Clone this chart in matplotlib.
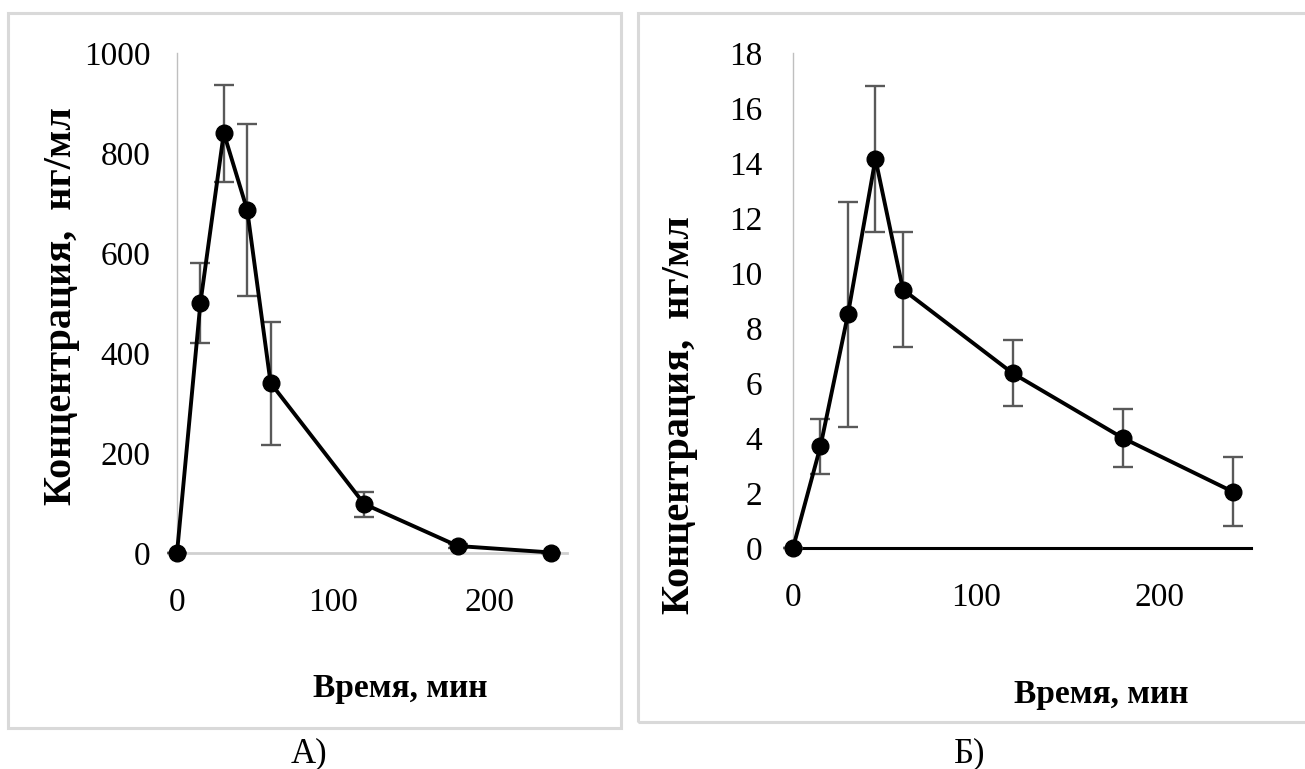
import matplotlib
matplotlib.use('Agg')
import matplotlib.pyplot as plt
from matplotlib.patches import Rectangle

plt.rcParams['font.family'] = ['Liberation Serif', 'DejaVu Serif']

# time points, min
time_min = [0, 15, 30, 45, 60, 120, 180, 240]

# panel A: concentration, ng/ml
conc_a = [0, 500, 840, 686, 340, 98, 14, 1]
err_a = [0, 80, 97, 172, 123, 25, 4, 0]

# panel B: concentration, ng/ml
conc_b = [0, 3.7, 8.5, 14.15, 9.4, 6.35, 4.0, 2.05]
err_b = [0, 1.0, 4.1, 2.65, 2.1, 1.2, 1.05, 1.25]

yticks_a = [0, 200, 400, 600, 800, 1000]
yticks_b = [0, 2, 4, 6, 8, 10, 12, 14, 16, 18]
xticks = [0, 100, 200]

W, H = 1305, 769
fig = plt.figure(figsize=(W / 100, H / 100), dpi=100)
fig.patch.set_facecolor('white')

# gray frames around each chart
frame_col = '#d9d9d9'
fig.patches.append(Rectangle((8 / W, 1 - 728 / H), (621 - 8) / W, (728 - 13) / H,
                             transform=fig.transFigure, fill=False,
                             edgecolor=frame_col, linewidth=2.2))
fig.patches.append(Rectangle((638 / W, 1 - 722 / H), (1350 - 638) / W, (722 - 13) / H,
                             transform=fig.transFigure, fill=False,
                             edgecolor=frame_col, linewidth=2.2))

ax_a = fig.add_axes([177 / W, 1 - 553 / H, 390 / W, 500 / H])
ax_b = fig.add_axes([793 / W, 1 - 548 / H, 458 / W, 495 / H])


def draw(ax, conc, err, ymax, yticks, xcol, xlw, ypad):
    ax.errorbar(time_min, conc, yerr=err, fmt='none', ecolor='#595959',
                elinewidth=1.7, capsize=7, capthick=1.7, zorder=2, clip_on=False)
    ax.plot(time_min, conc, color='black', linewidth=2.8, marker='o',
            markersize=12, zorder=3, clip_on=False)
    ax.set_xlim(0, 250)
    ax.set_ylim(0, ymax)
    ax.set_xticks(xticks)
    ax.set_yticks(yticks)
    ax.tick_params(axis='both', length=0, labelsize=24)
    ax.tick_params(axis='x', pad=25)
    ax.tick_params(axis='y', pad=ypad)
    for s in ['top', 'right']:
        ax.spines[s].set_visible(False)
    ax.spines['left'].set_color('#bfbfbf')
    ax.spines['left'].set_linewidth(1.0)
    ax.spines['bottom'].set_color(xcol)
    ax.spines['bottom'].set_linewidth(xlw)
    ax.spines['bottom'].set_zorder(1)


draw(ax_a, conc_a, err_a, 1000, yticks_a, '#d0d0d0', 2.0, 19)
draw(ax_b, conc_b, err_b, 18, yticks_b, 'black', 2.2, 22)

for ax, (lx, ly), (yx, yy) in [(ax_a, (0.572, -0.27), (-0.297, 0.494)),
                               (ax_b, (0.6725, -0.295), (-0.247, 0.269))]:
    ax.set_xlabel('Время, мин', fontsize=24, fontweight='bold')
    ax.xaxis.set_label_coords(lx, ly)
    ax.xaxis.label.set_va('center')
    ax.set_ylabel('Концентрация,  нг/мл', fontsize=29, fontweight='bold')
    ax.yaxis.set_label_coords(yx, yy)
    ax.yaxis.label.set_va('center')

fig.text(309 / W, 1 - 754 / H, 'А)', ha='center', va='center', fontsize=25)
fig.text(970 / W, 1 - 754 / H, 'Б)', ha='center', va='center', fontsize=25)

fig.savefig('out.png', dpi=100)
